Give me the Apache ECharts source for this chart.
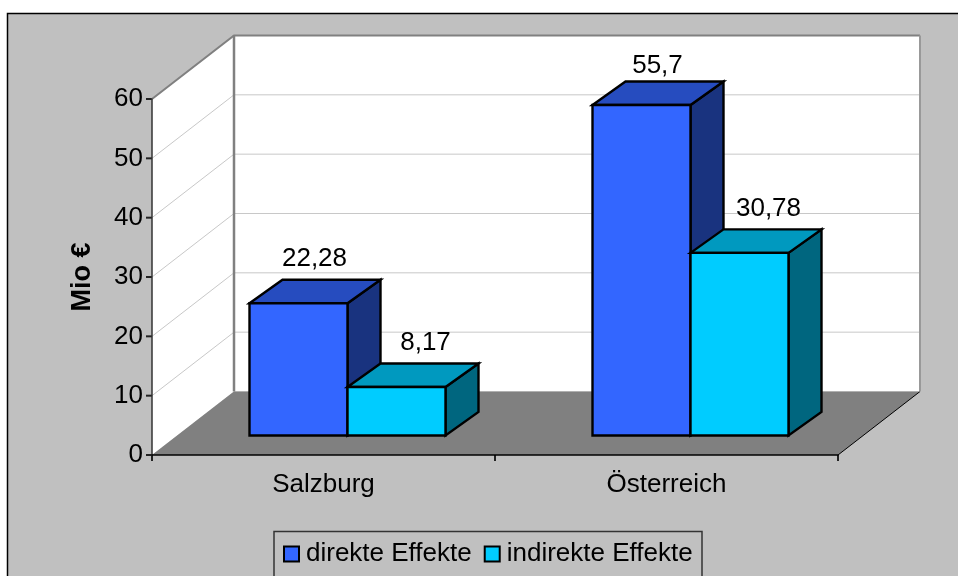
<!DOCTYPE html>
<html>
<head>
<meta charset="utf-8">
<style>
  html, body { margin: 0; padding: 0; background: #fff; overflow: hidden; }
  #chart { width: 958px; height: 576px; }
</style>
</head>
<body>
<div id="chart"></div>
<script src="https://cdn.jsdelivr.net/npm/echarts@6/dist/echarts.min.js"></script>
<script>
const categories = ['Salzburg', 'Österreich']
const seriesNames = ['direkte Effekte', 'indirekte Effekte']
const direkteValues = [22.28, 55.7]
const indirekteValues = [8.17, 30.78]
const yTicks = [0, 10, 20, 30, 40, 50, 60]

const fontFamily = '"Liberation Sans", Arial, sans-serif'
const fontSize = 26

// fake 3d: how far the back wall and the bars sit behind the front plane
const wallDx = 82
const wallDy = 63.5
const barShiftX = 24
const barShiftY = 19.5
const barWidth = 98
const barDx = 33
const barDy = 23.5

const colorSets = [
  { front: '#3366FF', top: '#264CBF', side: '#19337F', labelDx: 16 },
  { front: '#00CCFF', top: '#0099BF', side: '#00667F', labelDx: 29 }
]

const chart = echarts.init(document.getElementById('chart'))

const tickLine = (x1, y1, x2, y2) => ({
  type: 'line',
  shape: { x1: x1, y1: y1, x2: x2, y2: y2 },
  style: { stroke: '#222', lineWidth: 2 }
})

// walls, floor and the grid lines that run round them
const renderWalls = (params, api) => {
  const sys = params.coordSys
  const left = sys.x
  const right = sys.x + sys.width
  const bottom = sys.y + sys.height
  const top = sys.y
  const y = api.coord([0, api.value(0)])[1]
  const children = []
  if (params.dataIndex === 0) {
    children.push({
      type: 'polygon',
      shape: { points: [[left, top], [left + wallDx, top - wallDy], [left + wallDx, bottom - wallDy], [left, bottom]] },
      style: { fill: '#fff', stroke: null }
    })
    children.push({
      type: 'polygon',
      shape: { points: [[left + wallDx, top - wallDy], [right + wallDx, top - wallDy], [right + wallDx, bottom - wallDy], [left + wallDx, bottom - wallDy]] },
      style: { fill: '#fff', stroke: null }
    })
    children.push({
      type: 'polygon',
      shape: { points: [[left, bottom], [right, bottom], [right + wallDx, bottom - wallDy], [left + wallDx, bottom - wallDy]] },
      style: { fill: '#808080', stroke: null }
    })
    children.push({
      type: 'polyline',
      shape: { points: [[right, bottom], [right + wallDx, bottom - wallDy]] },
      style: { fill: null, stroke: '#000', lineWidth: 1 }
    })
    // category ticks below the front edge
    children.push(tickLine(left, bottom, left, bottom + 6))
    children.push(tickLine((left + right) / 2, bottom, (left + right) / 2, bottom + 6))
    children.push(tickLine(right, bottom, right, bottom + 6))
  }
  children.push(tickLine(left - 6, y, left, y))
  const isTop = api.value(0) === yTicks[yTicks.length - 1]
  if (api.value(0) !== 0) {
    children.push({
      type: 'polyline',
      shape: { points: [[left, y], [left + wallDx, y - wallDy], [right + wallDx, y - wallDy]] },
      style: { fill: null, stroke: isTop ? '#808080' : '#C8C8C8', lineWidth: isTop ? 2 : 1 }
    })
  }
  if (isTop) {
    children.push({
      type: 'polyline',
      shape: { points: [[left + wallDx, top - wallDy], [left + wallDx, bottom - wallDy]] },
      style: { fill: null, stroke: '#808080', lineWidth: 2.5 }
    })
    children.push({
      type: 'polyline',
      shape: { points: [[right + wallDx, top - wallDy], [right + wallDx, bottom - wallDy]] },
      style: { fill: null, stroke: '#999', lineWidth: 2 }
    })
  }
  return { type: 'group', children: children }
}

const makeBarRenderer = (seriesIndex) => (params, api) => {
  const c = colorSets[seriesIndex]
  const value = api.value(1)
  const base = api.coord([api.value(0), 0])
  const head = api.coord([api.value(0), value])
  const x0 = base[0] + barShiftX - barWidth + seriesIndex * barWidth
  const x1 = x0 + barWidth
  const yb = base[1] - barShiftY
  const yt = head[1] - barShiftY
  const line = { stroke: '#000', lineWidth: 2.4, lineJoin: 'miter' }
  // the tallest label sits a bit closer to its bar in the picture
  const lift = value > 50 ? 16 : 21
  return {
    type: 'group',
    children: [
      {
        type: 'polygon',
        shape: { points: [[x1, yt], [x1 + barDx, yt - barDy], [x1 + barDx, yb - barDy], [x1, yb]] },
        style: Object.assign({ fill: c.side }, line)
      },
      {
        type: 'polygon',
        shape: { points: [[x0, yt], [x0 + barDx, yt - barDy], [x1 + barDx, yt - barDy], [x1, yt]] },
        style: Object.assign({ fill: c.top }, line)
      },
      {
        type: 'rect',
        shape: { x: x0, y: yt, width: barWidth, height: yb - yt },
        style: Object.assign({ fill: c.front }, line)
      },
      {
        type: 'text',
        style: {
          text: String(value).replace('.', ','),
          x: (x0 + x1) / 2 + c.labelDx,
          y: yt - barDy - lift,
          fill: '#000',
          font: fontSize + 'px ' + fontFamily,
          align: 'center',
          verticalAlign: 'middle'
        }
      }
    ]
  }
}

chart.setOption({
  backgroundColor: '#fff',
  animation: false,
  graphic: [
    {
      type: 'rect',
      z: -10,
      shape: { x: 7.5, y: 13.5, width: 1000, height: 700 },
      style: { fill: '#C0C0C0', stroke: '#000', lineWidth: 1.5 }
    },
    {
      type: 'rect',
      z: -9,
      shape: { x: 274, y: 531.5, width: 428, height: 80 },
      style: { fill: '#C0C0C0', stroke: '#333', lineWidth: 1.5 }
    }
  ],
  grid: { left: 152, top: 99, width: 686, height: 356, containLabel: false },
  legend: {
    data: seriesNames,
    left: 283,
    top: 541,
    padding: 0,
    itemWidth: 15,
    itemHeight: 15,
    itemGap: 12,
    icon: 'rect',
    textStyle: { fontSize: fontSize, fontFamily: fontFamily, color: '#000', padding: [0, 0, 0, 2] }
  },
  xAxis: {
    type: 'category',
    data: categories,
    z: 5,
    axisLine: { lineStyle: { color: '#000', width: 1.5 } },
    axisTick: { show: false },
    axisLabel: { fontSize: fontSize, fontFamily: fontFamily, color: '#000', margin: 17 }
  },
  yAxis: {
    type: 'value',
    min: 0,
    max: 60,
    interval: 10,
    z: 5,
    name: 'Mio €',
    nameLocation: 'middle',
    nameGap: 56,
    nameTextStyle: { fontSize: 27, fontWeight: 'bold', fontFamily: fontFamily, color: '#000' },
    splitLine: { show: false },
    axisLine: { show: true, lineStyle: { color: '#333', width: 1.5 } },
    axisTick: { show: false },
    axisLabel: { fontSize: fontSize, fontFamily: fontFamily, color: '#000', margin: 9, padding: [2, 0, 0, 0] }
  },
  series: [
    {
      type: 'custom',
      name: 'walls',
      silent: true,
      z: 1,
      clip: false,
      renderItem: renderWalls,
      data: yTicks.map((v) => [v]),
      encode: { y: 0 }
    },
    {
      type: 'custom',
      name: seriesNames[0],
      z: 2,
      clip: false,
      renderItem: makeBarRenderer(0),
      itemStyle: { color: colorSets[0].front, borderColor: '#000', borderWidth: 1.5 },
      data: direkteValues.map((v, i) => [i, v]),
      encode: { x: 0, y: 1 }
    },
    {
      type: 'custom',
      name: seriesNames[1],
      z: 3,
      clip: false,
      renderItem: makeBarRenderer(1),
      itemStyle: { color: colorSets[1].front, borderColor: '#000', borderWidth: 1.5 },
      data: indirekteValues.map((v, i) => [i, v]),
      encode: { x: 0, y: 1 }
    }
  ]
})
</script>
</body>
</html>
